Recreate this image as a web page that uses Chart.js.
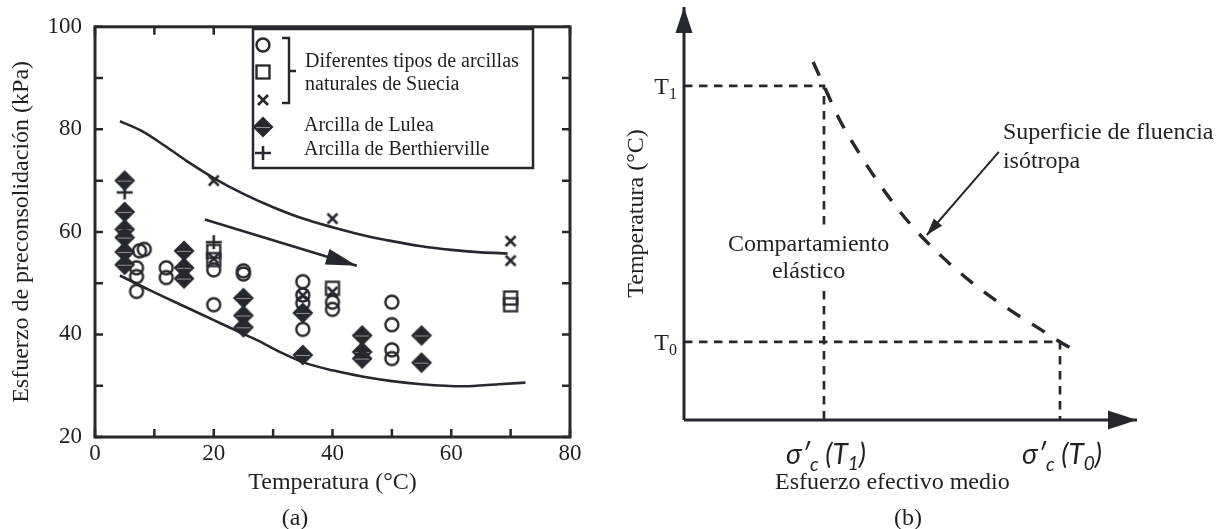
<!DOCTYPE html>
<html><head><meta charset="utf-8">
<script src="https://cdn.jsdelivr.net/npm/chart.js@4.4.0/dist/chart.umd.min.js"></script>
<style>
html,body{margin:0;padding:0;background:#fff;width:1228px;height:529px;overflow:hidden;}
#wrapA{position:absolute;left:0;top:0;width:600px;height:529px;}
#wrapB{position:absolute;left:600px;top:0;width:628px;height:529px;}
.cap{position:absolute;font-family:"Liberation Serif","Times New Roman",serif;font-size:24px;color:#231f20;transform:translate(-50%,-50%);white-space:nowrap;line-height:1;}
</style></head><body>
<div id="wrapA"><canvas id="cA" width="600" height="529"></canvas></div>
<div id="wrapB"><canvas id="cB" width="628" height="529"></canvas></div>
<div class="cap" style="left:295px;top:517px">(a)</div>
<div class="cap" style="left:908px;top:517px">(b)</div>
<script>
// ---------- (a) data ----------
const circleT = [7.5, 8.3, 7, 7, 7, 12, 12, 20, 20, 25, 25, 35, 35, 35, 35, 40, 40, 50, 50, 50, 50];
const circleP = [56.3, 56.6, 53.0, 51.3, 48.4, 53.0, 51.1, 52.6, 45.8, 52.4, 51.8, 50.3, 47.7, 46.1, 41.0, 46.3, 44.9, 46.3, 41.9, 37.0, 35.3];
const squareT = [20, 20, 40, 70, 70];
const squareP = [56.2, 54.6, 49.0, 47.1, 45.8];
const crossT = [20, 40, 70, 70, 20, 35, 40];
const crossP = [70.0, 62.6, 58.2, 54.4, 54.8, 47.6, 48.3];
const luleaT = [5, 5, 5, 5, 5, 5, 15, 15, 15, 25, 25, 25, 35, 35, 45, 45, 45, 55, 55];
const luleaP = [70.0, 63.9, 60.5, 58.9, 56.1, 53.6, 56.3, 53.0, 50.9, 47.1, 43.7, 41.4, 44.2, 36.0, 39.8, 36.6, 35.3, 39.8, 34.5];
const berthT = [5, 20];
const berthP = [67.7, 58.0];
const upperT = [4.2, 8, 12, 16, 20, 25, 30, 35, 40, 45, 50, 55, 60, 65, 69.5];
const upperP = [81.6, 79.6, 76.6, 73.4, 70.5, 67.4, 64.8, 62.6, 60.9, 59.4, 58.2, 57.2, 56.5, 56.0, 55.8];
const lowerT = [4.2, 9.3, 15, 20, 25, 27.3, 31.1, 35, 40, 45, 50, 55, 62, 68, 72.5];
const lowerP = [51.5, 48.6, 45.5, 42.8, 40.1, 38.9, 36.6, 34.6, 33.0, 31.8, 30.9, 30.3, 29.9, 30.3, 30.6];
const trendT = [18.5, 44.1];
const trendP = [62.4, 53.4];
const xTickStepA = 10, yTickStepA = 10, labelEveryA = 20;
const legendLines = ["Diferentes tipos de arcillas", "naturales de Suecia", "Arcilla de Lulea", "Arcilla de Berthierville"];

// ---------- (b) data ----------
const sigmaT1 = 3.09, sigmaT0 = 8.30, tempT1 = 8.09, tempT0 = 1.89;
const yieldS = [2.85, sigmaT1, 3.44, 3.89, 4.44, 5.03, 5.70, 6.42, 7.20, 7.86, sigmaT0, 8.63];
const yieldT = [8.67, tempT1, 7.26, 6.42, 5.52, 4.70, 3.95, 3.27, 2.66, 2.20, tempT0, 1.69];
const pointerS = [6.95, 5.36];
const pointerT = [6.49, 4.48];
const xTickValuesB = [sigmaT1, sigmaT0];
const xTickSubsB = ["1", "0"];
const yTickValuesB = [tempT1, tempT0];
const yTickSubsB = ["1", "0"];

const INK = '#25282d';
const TXT = '#231f20';
const SERIF = '"Liberation Serif", "Times New Roman", serif';
const pts = (xs, ys) => xs.map((x, i) => ({x, y: ys[i]}));

function marker(size, fn){
  const c = document.createElement('canvas'); c.width = size; c.height = size;
  const g = c.getContext('2d'); g.strokeStyle = INK; g.fillStyle = INK; fn(g, size/2); return c;
}
const imgCircle = marker(18, (g,m)=>{g.lineWidth=2.4; g.beginPath(); g.arc(m,m,6.5,0,Math.PI*2); g.stroke();});
const imgSquare = marker(18, (g,m)=>{g.lineWidth=2.3; g.strokeRect(m-6.5,m-6.5,13,13);});
const imgCross = marker(16, (g,m)=>{g.lineWidth=2.6; g.beginPath(); g.moveTo(m-5,m-5); g.lineTo(m+5,m+5); g.moveTo(m+5,m-5); g.lineTo(m-5,m+5); g.stroke();});
const imgDiamond = marker(24, (g,m)=>{g.beginPath(); g.moveTo(m,m-10.5); g.lineTo(m+10.5,m); g.lineTo(m,m+10.5); g.lineTo(m-10.5,m); g.closePath(); g.fill();
  g.strokeStyle='#8f9092'; g.lineWidth=1; g.beginPath(); g.moveTo(m-7,m+0.5); g.lineTo(m+7,m+0.5); g.stroke();});
const imgPlus = marker(20, (g,m)=>{g.lineWidth=2.6; g.beginPath(); g.moveTo(m-8,m); g.lineTo(m+8,m); g.moveTo(m,m-7); g.lineTo(m,m+7); g.stroke();});

const arrowPlugin = {
  id: 'arrowHeads',
  afterDatasetsDraw(chart){
    const ctx = chart.ctx;
    chart.data.datasets.forEach((ds, i) => {
      if (!ds.arrowHead) return;
      const d = chart.getDatasetMeta(i).data; const n = d.length;
      const p1 = d[n-2], p2 = d[n-1];
      const ang = Math.atan2(p2.y - p1.y, p2.x - p1.x);
      const [L, W] = ds.arrowHead;
      ctx.save(); ctx.translate(p2.x, p2.y); ctx.rotate(ang);
      ctx.beginPath(); ctx.moveTo(0,0); ctx.lineTo(-L,-W/2); ctx.lineTo(-L,W/2); ctx.closePath();
      ctx.fillStyle = INK; ctx.fill(); ctx.restore();
    });
  }
};

function scatterDs(xs, ys, img){
  return {type:'scatter', data: pts(xs, ys), pointStyle: img, pointRadius: 9, pointHoverRadius: 9, showLine: false};
}
function lineDs(xs, ys, extra){
  return Object.assign({type:'line', data: pts(xs, ys), borderColor: INK, borderWidth: 2.6, pointRadius: 0, fill: false,
    cubicInterpolationMode: 'monotone', clip: false}, extra||{});
}

const frameA = {
  id: 'frameA',
  afterDraw(chart){
    const {ctx, chartArea: a, scales: {x, y}} = chart;
    ctx.save();
    ctx.strokeStyle = INK; ctx.lineWidth = 3;
    ctx.strokeRect(a.left, a.top, a.right - a.left, a.bottom - a.top);
    ctx.lineWidth = 2.5; ctx.beginPath();
    x.ticks.forEach(t => { const p = x.getPixelForValue(t.value);
      ctx.moveTo(p, a.bottom); ctx.lineTo(p, a.bottom - 8); ctx.moveTo(p, a.top); ctx.lineTo(p, a.top + 8); });
    y.ticks.forEach(t => { const p = y.getPixelForValue(t.value);
      ctx.moveTo(a.left, p); ctx.lineTo(a.left + 8, p); ctx.moveTo(a.right, p); ctx.lineTo(a.right - 8, p); });
    ctx.stroke();
    // legend
    ctx.fillStyle = '#fff'; ctx.fillRect(253, 29, 280, 139);
    ctx.lineWidth = 2.5; ctx.strokeRect(253, 29, 280, 139);
    ctx.drawImage(imgCircle, 263-9, 45-9);
    ctx.drawImage(imgSquare, 263-9, 72-9);
    ctx.drawImage(imgCross, 263-8, 100-8);
    ctx.drawImage(imgDiamond, 263-12, 127-12);
    ctx.drawImage(imgPlus, 263-10, 153-10);
    ctx.lineWidth = 2.4; ctx.beginPath();
    ctx.moveTo(282, 38); ctx.lineTo(289, 38); ctx.lineTo(289, 103); ctx.lineTo(282, 103);
    ctx.moveTo(289, 71); ctx.lineTo(296, 71); ctx.stroke();
    ctx.fillStyle = TXT; ctx.font = '20px ' + SERIF; ctx.textBaseline = 'middle'; ctx.textAlign = 'left';
    ctx.fillText(legendLines[0], 305, 62);
    ctx.fillText(legendLines[1], 305, 85);
    ctx.fillText(legendLines[2], 304, 126);
    ctx.fillText(legendLines[3], 304, 150);
    ctx.restore();
  }
};

new Chart(document.getElementById('cA'), {
  type: 'scatter',
  data: { datasets: [
    scatterDs(luleaT, luleaP, imgDiamond),
    scatterDs(crossT, crossP, imgCross),
    scatterDs(squareT, squareP, imgSquare),
    scatterDs(circleT, circleP, imgCircle),
    scatterDs(berthT, berthP, imgPlus),
    lineDs(trendT, trendP, {cubicInterpolationMode: 'default', tension: 0, arrowHead: [31, 16]}),
    lineDs(upperT, upperP),
    lineDs(lowerT, lowerP)
  ]},
  options: {
    responsive: false, animation: false, devicePixelRatio: 1,
    layout: {padding: {left: 0, top: 17, right: 30, bottom: 0}},
    plugins: {legend: {display: false}, tooltip: {enabled: false}},
    scales: {
      x: { min: 0, max: 80, afterFit: s => { s.height = 92; },
        ticks: {stepSize: xTickStepA, autoSkip: false, maxRotation: 0, padding: 3, color: TXT, font: {family: SERIF, size: 23},
          callback: v => (v % labelEveryA === 0 ? String(v) : '')},
        grid: {display: false, drawTicks: false}, border: {display: false},
        title: {display: true, text: 'Temperatura (°C)', color: TXT, font: {family: SERIF, size: 24}, padding: {top: 0, bottom: 31.6}} },
      y: { min: 20, max: 100, afterFit: s => { s.width = 95; },
        ticks: {stepSize: yTickStepA, autoSkip: false, padding: 13, color: TXT, font: {family: SERIF, size: 23},
          callback: v => (v % labelEveryA === 0 ? String(v) : '')},
        grid: {display: false, drawTicks: false}, border: {display: false},
        title: {display: true, text: 'Esfuerzo de preconsolidación (kPa)', color: TXT, font: {family: SERIF, size: 24}, padding: {top: 7.6, bottom: 0}} }
    }
  },
  plugins: [arrowPlugin, frameA]
});

// ---------- (b) ----------
function drawParts(ctx, parts, cx, cy){
  let w = 0;
  parts.forEach(p => { ctx.font = p.font; p.w = ctx.measureText(p.t).width; w += p.w; });
  let x = cx - w/2;
  parts.forEach(p => { ctx.font = p.font; ctx.fillText(p.t, x, cy + (p.dy||0)); x += p.w; });
}
const SANS_I = 'italic 28px Lato, "Open Sans", "Liberation Sans", sans-serif';
const SANS_IS = 'italic 19px Lato, "Open Sans", "Liberation Sans", sans-serif';

const labelsB = {
  id: 'labelsB',
  afterDatasetsDraw(chart){
    const {ctx, scales: {x, y}} = chart;
    ctx.save();
    ctx.fillStyle = TXT; ctx.textBaseline = 'alphabetic'; ctx.textAlign = 'left';
    xTickValuesB.forEach((v, i) => {
      drawParts(ctx, [
        {t: 'σ′', font: SANS_I}, {t: 'c', font: SANS_IS, dy: 7}, {t: ' (', font: SANS_I},
        {t: 'T', font: SANS_I}, {t: xTickSubsB[i], font: SANS_IS, dy: 6}, {t: ')', font: SANS_I}
      ], x.getPixelForValue(v) + 2, 464);
    });
    yTickValuesB.forEach((v, i) => {
      const py = y.getPixelForValue(v) + 8;
      ctx.font = '24px ' + SERIF; const wT = ctx.measureText('T').width;
      ctx.font = '16px ' + SERIF; const wS = ctx.measureText(yTickSubsB[i]).width;
      const right = x.getPixelForValue(0) - 7;
      ctx.font = '24px ' + SERIF; ctx.fillText('T', right - wS - wT, py);
      ctx.font = '16px ' + SERIF; ctx.fillText(yTickSubsB[i], right - wS, py + 5);
    });
    // annotations
    ctx.font = '24px ' + SERIF; ctx.textBaseline = 'middle'; ctx.textAlign = 'center';
    const cx = x.getPixelForValue(2.75);
    [['Compartamiento', 4.24], ['elástico', 3.58]].forEach(([t, v]) => {
      const w = ctx.measureText(t).width; const py = y.getPixelForValue(v);
      ctx.fillStyle = '#fff'; ctx.fillRect(cx - w/2 - 2, py - 14, w + 4, 28);
    });
    ctx.fillStyle = TXT;
    [['Compartamiento', 4.24], ['elástico', 3.58]].forEach(([t, v]) => ctx.fillText(t, cx, y.getPixelForValue(v)));
    ctx.textAlign = 'left';
    ctx.fillText('Superficie de fluencia', x.getPixelForValue(7.04), y.getPixelForValue(6.95));
    ctx.fillText('isótropa', x.getPixelForValue(7.04), y.getPixelForValue(6.25));
    // axis title (bottom)
    ctx.textAlign = 'center';
    ctx.fillText('Esfuerzo efectivo medio', x.getPixelForValue(4.6), 483);
    ctx.restore();
  }
};

new Chart(document.getElementById('cB'), {
  type: 'scatter',
  data: { datasets: [
    lineDs([0, 10], [0, 0], {cubicInterpolationMode: 'default', tension: 0, borderWidth: 3, arrowHead: [29, 19]}),
    lineDs([0, 0], [0, 10], {cubicInterpolationMode: 'default', tension: 0, borderWidth: 3, arrowHead: [26, 17]}),
    lineDs(pointerS, pointerT, {cubicInterpolationMode: 'default', tension: 0, borderWidth: 2, arrowHead: [17, 11]}),
    lineDs(yieldS, yieldT, {borderWidth: 3.4, borderDash: [15, 14]}),
    lineDs([0, sigmaT1, sigmaT1], [tempT1, tempT1, 0], {cubicInterpolationMode: 'default', tension: 0, borderWidth: 2.7, borderDash: [8.5, 6.5]}),
    lineDs([0, sigmaT0, sigmaT0], [tempT0, tempT0, 0], {cubicInterpolationMode: 'default', tension: 0, borderWidth: 2.7, borderDash: [8.5, 6.5]})
  ]},
  options: {
    responsive: false, animation: false, devicePixelRatio: 1,
    layout: {padding: {left: 0, top: 7, right: 91, bottom: 0}},
    plugins: {legend: {display: false}, tooltip: {enabled: false}},
    scales: {
      x: { min: 0, max: 10, afterFit: s => { s.height = 109; },
        ticks: {display: false}, grid: {display: false, drawTicks: false}, border: {display: false},
        title: {display: false} },
      y: { min: 0, max: 10, afterFit: s => { s.width = 84; },
        ticks: {display: false}, grid: {display: false, drawTicks: false}, border: {display: false},
        title: {display: true, text: 'Temperatura (°C)', color: TXT, font: {family: SERIF, size: 24}, padding: {top: 22.6, bottom: 0}} }
    }
  },
  plugins: [arrowPlugin, labelsB]
});
</script>
</body></html>
